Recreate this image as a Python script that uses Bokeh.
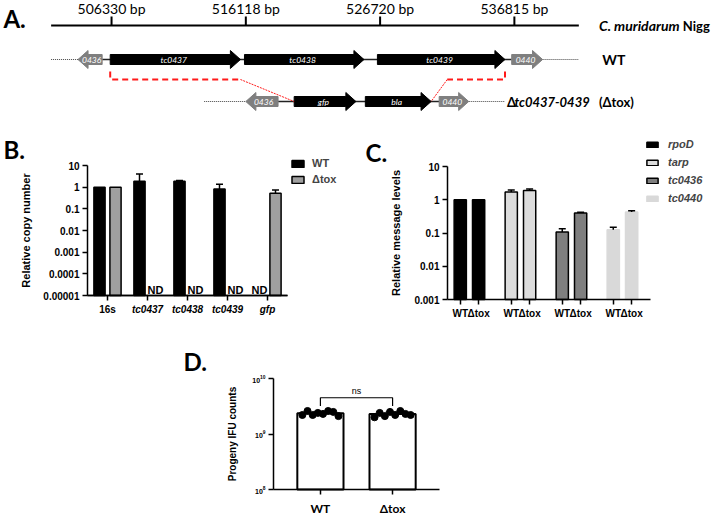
import numpy as np
from bokeh.plotting import figure
from bokeh.layouts import column, row
from bokeh.models import Range1d, FixedTicker, Legend, LegendItem, LinearAxis
from bokeh.core.properties import value
from bokeh.embed import file_html
from bokeh.resources import INLINE

# ---------------- Panel A: locus map (schematic units, ruler ticks every 10) ----------------
ruler_pos = [0, 10, 20, 30]
ruler_labels = ["506330 bp", "516118 bp", "526720 bp", "536815 bp"]

wt_genes = ["0436", "tc0437", "tc0438", "tc0439", "0440"]
wt_start = [-2.5, -0.1, 9.9, 19.8, 29.8]
wt_end = [-0.7, 9.6, 18.8, 29.3, 32.1]
wt_strand = [-1, 1, 1, 1, 1]
wt_kind = ["flank", "core", "core", "core", "flank"]

mut_genes = ["0436", "gfp", "bla", "0440"]
mut_start = [10.0, 13.6, 18.9, 24.4]
mut_end = [12.4, 18.2, 23.8, 26.6]
mut_strand = [-1, 1, 1, 1]
mut_kind = ["flank", "core", "core", "flank"]

# ---------------- Panel B: relative copy number ----------------
b_targets = ["16s", "tc0437", "tc0438", "tc0439", "gfp"]
b_wt = [1.0, 1.86, 1.86, 0.83, None]
b_wt_sd = [0.0, 2.2, 0.15, 0.55, None]
b_tox = [1.0, None, None, None, 0.53]
b_tox_sd = [0.0, None, None, None, 0.21]

# ---------------- Panel C: relative message levels ----------------
c_genes = ["rpoD", "tarp", "tc0436", "tc0440"]
c_strains = ["WT", "\u0394tox"]
c_wt = [1.0, 1.7, 0.107, 0.125]
c_wt_sd = [0.0, 0.28, 0.028, 0.025]
c_tox = [1.0, 1.9, 0.40, 0.43]
c_tox_sd = [0.0, 0.2, 0.02, 0.04]

# ---------------- Panel D: progeny IFU counts ----------------
d_strains = ["WT", "\u0394tox"]
d_wt_ifu = [2.2e9, 2.6e9, 2.2e9, 2.4e9, 2.3e9, 2.6e9, 2.5e9, 2.1e9]
d_tox_ifu = [2.0e9, 2.4e9, 2.1e9, 2.5e9, 2.2e9, 2.6e9, 2.3e9, 2.2e9]

SANS = "Liberation Sans"
CAL = "Lato"
GENE_COLORS = {"core": "#000000", "flank": "#7f7f7f"}


class Frame:
    """Maps an axis box (given in figure pixels) onto ranges that fill the whole figure."""

    def __init__(self, w, h, xd, xpx, yd, ypx, ylog=True):
        self.w, self.h, self.ylog = w, h, ylog
        kx = (xd[1] - xd[0]) / (xpx[1] - xpx[0])
        self.x0 = xd[0] - xpx[0] * kx
        self.x1 = xd[1] + (w - xpx[1]) * kx
        f = np.log10 if ylog else (lambda v: v)
        a, b = f(yd[0]), f(yd[1])
        # ypx: pixel rows (from top) of yd[0] and yd[1]
        lo, hi = h - ypx[0], h - ypx[1]
        ky = (b - a) / (hi - lo)
        self.y0 = a - lo * ky
        self.y1 = b + (h - hi) * ky

    def ranges(self):
        yr = (10 ** self.y0, 10 ** self.y1) if self.ylog else (self.y0, self.y1)
        return Range1d(self.x0, self.x1), Range1d(*yr)

    def x(self, px):
        return self.x0 + px * (self.x1 - self.x0) / self.w

    def y(self, py):
        v = self.y1 - py * (self.y1 - self.y0) / self.h
        return 10 ** v if self.ylog else v


def style_axes(p, tick_px, label_px):
    for ax in p.axis:
        ax.axis_line_width = 1.5
        ax.axis_line_color = "black"
        ax.major_tick_line_width = 1.5
        ax.major_tick_line_color = "black"
        ax.major_tick_in = 0
        ax.major_tick_out = 5
        ax.minor_tick_line_color = None
        ax.major_label_text_font = SANS
        ax.major_label_text_font_size = tick_px
        ax.major_label_text_font_style = "bold"
        ax.major_label_text_color = "black"
        ax.major_label_standoff = 3
        ax.axis_label_text_font = SANS
        ax.axis_label_text_font_size = label_px
        ax.axis_label_text_font_style = "bold"
        ax.axis_label_text_color = "black"
    p.grid.visible = False
    p.outline_line_color = None


def make_panel(fr, xb, yb):
    xr, yr = fr.ranges()
    p = figure(width=fr.w, height=fr.h, x_range=xr, y_range=yr,
               y_axis_type="log" if fr.ylog else "linear", min_border=0,
               toolbar_location=None, output_backend="svg")
    # axes sit on the data box instead of the figure edge
    p.xaxis.fixed_location = yb[0]
    p.xaxis.bounds = xb
    p.yaxis.fixed_location = xb[0]
    p.yaxis.bounds = yb
    return p


def letter(p, fr, text, px, py):
    p.text(x=[fr.x(px)], y=[fr.y(py)], text=[text], text_font=value(CAL),
           text_font_style="bold", text_font_size="24px", text_baseline="middle")


def arrow_xy(s, e, strand, y, hl=0.75, bh=5, hh=9):
    if strand > 0:
        n = e - hl
        xs = [s, n, n, e, n, n, s]
    else:
        n = s + hl
        xs = [e, n, n, s, n, n, e]
    ys = [y - bh, y - bh, y - hh, y, y + hh, y + bh, y + bh]
    return xs, ys


# ================= Panel A =================
RULER_Y, WT_Y, MUT_Y, BRACKET_Y, BRACKET_TOP = 25, 59, 101, 79, 71
pA = figure(width=711, height=135, x_range=Range1d(-8.27, 44.68), y_range=Range1d(135, 0),
            x_axis_location=None, y_axis_location=None, min_border=0,
            toolbar_location=None, output_backend="svg")
pA.grid.visible = False
pA.outline_line_color = None

pA.segment(x0=[-4.5], y0=[RULER_Y], x1=[34.8], y1=[RULER_Y], line_color="black", line_width=2)
pA.segment(x0=ruler_pos, y0=[RULER_Y] * 4, x1=ruler_pos, y1=[RULER_Y - 9] * 4,
           line_color="black", line_width=2)
pA.text(x=ruler_pos, y=[RULER_Y - 17] * 4, text=ruler_labels, text_align="center",
        text_baseline="middle", text_font=value(CAL), text_font_size="14px", text_color="black")
pA.text(x=[36.3], y=[RULER_Y], text=["C. muridarum"], text_font=value(CAL),
        text_font_style="bold italic", text_font_size="14px", text_baseline="middle")
pA.text(x=[44.55], y=[RULER_Y], text=["Nigg"], text_font=value(CAL),
        text_font_style="bold", text_font_size="13px", text_baseline="middle",
        text_align="right")
pA.text(x=[-8.05], y=[18], text=["A."], text_font=value(CAL), text_font_style="bold",
        text_font_size="24px", text_baseline="middle")


def draw_row(genes, starts, ends, strands, kinds, y, flanks):
    for a, b in flanks:
        pA.line([a, b], [y, y], line_color="#444444", line_width=1, line_dash="1 1")
    pA.line([ends[0], starts[-1]], [y, y], line_color="#222222", line_width=1.5)
    xs, ys, cols, lx = [], [], [], []
    for s, e, st, k in zip(starts, ends, strands, kinds):
        ax, ay = arrow_xy(s, e, st, y)
        xs.append(ax)
        ys.append(ay)
        cols.append(GENE_COLORS[k])
        lx.append((s + e) / 2 - st * 0.12)
    pA.patches(xs, ys, fill_color=cols, line_color=cols, line_width=1)
    pA.text(x=lx, y=[y] * len(genes), text=genes, text_align="center", text_baseline="middle",
            text_font=value(CAL), text_font_style="italic", text_font_size="8.5px",
            text_color="white")


draw_row(wt_genes, wt_start, wt_end, wt_strand, wt_kind, WT_Y,
         [(-4.5, wt_start[0]), (wt_end[-1], 34.8)])
draw_row(mut_genes, mut_start, mut_end, mut_strand, mut_kind, MUT_Y,
         [(6.9, mut_start[0]), (mut_end[-1], 29.3)])

# deletion brackets
pA.line([wt_start[1], wt_start[1], wt_end[1]], [BRACKET_TOP, BRACKET_Y, BRACKET_Y],
        line_color="#ff1a1a", line_width=2, line_dash="6 4")
pA.line([wt_end[1], mut_start[1]], [BRACKET_Y, MUT_Y], line_color="#ff1a1a",
        line_width=1, line_dash="2 1")
pA.line([wt_end[3], wt_end[3], 25.0], [BRACKET_TOP, BRACKET_Y, BRACKET_Y],
        line_color="#ff1a1a", line_width=2, line_dash="6 4")
pA.line([25.0, mut_end[2]], [BRACKET_Y, MUT_Y], line_color="#ff1a1a",
        line_width=1, line_dash="2 1")

pA.text(x=[36.55], y=[WT_Y], text=["WT"], text_font=value(CAL), text_font_style="bold",
        text_font_size="14px", text_baseline="middle")
pA.text(x=[29.45], y=[MUT_Y], text=["\u0394"], text_font=value(CAL), text_font_style="bold",
        text_font_size="13px", text_baseline="middle")
pA.text(x=[30.0], y=[MUT_Y], text=["tc0437-0439"], text_font=value(CAL),
        text_font_style="bold italic", text_font_size="13px", text_baseline="middle")
pA.text(x=[38.9], y=[MUT_Y], text=["(\u0394tox)"], text_font=value(CAL),
        text_font_style="bold", text_font_size="13px", text_baseline="middle",
        text_align="right")

# ================= Panel B =================
B_X, B_Y = (-0.5, 4.5), (1e-5, 10)
frB = Frame(355, 195, B_X, (87, 287), B_Y, (160, 30))
pB = make_panel(frB, B_X, B_Y)
# the 16s reference is labelled upright; the gene targets in italics
pB.add_layout(LinearAxis(fixed_location=B_Y[0], bounds=B_X), "below")
style_axes(pB, "10px", "11px")
pB.yaxis.axis_label = "Relative copy number"
pB.yaxis.axis_label_standoff = 8
b_yticks = [1e-5, 1e-4, 1e-3, 1e-2, 1e-1, 1, 10]
pB.yaxis.ticker = FixedTicker(ticks=b_yticks)
pB.yaxis.major_label_overrides = {t: l for t, l in zip(
    b_yticks, ["0.00001", "0.0001", "0.001", "0.01", "0.1", "1", "10"])}
ax_genes, ax_ref = pB.xaxis[0], pB.xaxis[1]
ax_genes.ticker = FixedTicker(ticks=list(range(1, len(b_targets))))
ax_genes.major_label_overrides = {i: t for i, t in enumerate(b_targets) if i > 0}
ax_genes.major_label_text_font_style = "bold italic"
ax_ref.ticker = FixedTicker(ticks=[0])
ax_ref.major_label_overrides = {0: b_targets[0]}

B_DODGE, B_W, B_FLOOR = 0.2, 0.28, B_Y[0]


def series(vals, sds, offset):
    idx = [i for i, v in enumerate(vals) if v is not None]
    return [i + offset for i in idx], [vals[i] for i in idx], [sds[i] for i in idx]


def whiskers(p, xs_, vs_, ss_):
    ex = [x for x, s in zip(xs_, ss_) if s > 0]
    ev = [v for v, s in zip(vs_, ss_) if s > 0]
    eu = [v + s for v, s in zip(vs_, ss_) if s > 0]
    if ex:
        p.segment(x0=ex, y0=ev, x1=ex, y1=eu, line_color="black", line_width=1.5)
        p.dash(x=ex, y=eu, size=7, line_color="black", line_width=1.5)


bx, bv, bs = series(b_wt, b_wt_sd, -B_DODGE)
r_bwt = pB.vbar(x=bx, top=bv, bottom=B_FLOOR, width=B_W, fill_color="black",
                line_color="black", line_width=1.5)
tx, tv, ts = series(b_tox, b_tox_sd, B_DODGE)
r_btox = pB.vbar(x=tx, top=tv, bottom=B_FLOOR, width=B_W, fill_color="#a0a0a0",
                 line_color="black", line_width=1.5)
whiskers(pB, bx, bv, bs)
whiskers(pB, tx, tv, ts)

nd_x = [i + B_DODGE for i, v in enumerate(b_tox) if v is None] + \
       [i - B_DODGE for i, v in enumerate(b_wt) if v is None]
pB.text(x=nd_x, y=[B_FLOOR] * len(nd_x), text=["ND"] * len(nd_x), text_align="center",
        text_baseline="bottom", text_font=value(SANS), text_font_style="bold",
        text_font_size="11px")

legB = Legend(items=[LegendItem(label="WT", renderers=[r_bwt]),
                     LegendItem(label="\u0394tox", renderers=[r_btox])],
              location=(290, 144), padding=0, margin=0, spacing=2, glyph_width=15,
              glyph_height=9, label_standoff=7, label_height=14,
              label_text_font=SANS, label_text_font_style="bold", label_text_font_size="11px",
              border_line_color=None, background_fill_alpha=0)
pB.add_layout(legB)
letter(pB, frB, "B.", 3, 14)

# ================= Panel C =================
C_X, C_Y = (-0.43, 3.55), (1e-3, 10)
frC = Frame(356, 195, C_X, (92, 295), C_Y, (164, 31))
pC = make_panel(frC, C_X, C_Y)
style_axes(pC, "10px", "11px")
pC.yaxis.axis_label = "Relative message levels"
pC.yaxis.axis_label_standoff = 9
c_yticks = [1e-3, 1e-2, 1e-1, 1, 10]
pC.yaxis.ticker = FixedTicker(ticks=c_yticks)
pC.yaxis.major_label_overrides = {t: l for t, l in zip(c_yticks, ["0.001", "0.01", "0.1", "1", "10"])}

C_DODGE, C_W = 0.18, 0.24
c_ticks, c_tick_labels = [], {}
for g in range(len(c_genes)):
    for k, off in enumerate((-C_DODGE, C_DODGE)):
        t = round(g + off, 2)
        c_ticks.append(t)
        c_tick_labels[t] = c_strains[k]
pC.xaxis.ticker = FixedTicker(ticks=c_ticks)
pC.xaxis.major_label_overrides = c_tick_labels

c_fill = ["#000000", "#dcdcdc", "#7f7f7f", "#d9d9d9"]
c_line = ["#000000", "#000000", "#000000", "#d9d9d9"]
legC_items = []
for g, gene in enumerate(c_genes):
    xs_ = [round(g - C_DODGE, 2), round(g + C_DODGE, 2)]
    vs_ = [c_wt[g], c_tox[g]]
    ss_ = [c_wt_sd[g], c_tox_sd[g]]
    r = pC.vbar(x=xs_, top=vs_, bottom=C_Y[0], width=C_W, fill_color=c_fill[g],
                line_color=c_line[g], line_width=1.5)
    legC_items.append(LegendItem(label=gene, renderers=[r]))
    whiskers(pC, xs_, vs_, ss_)

legC = Legend(items=legC_items, location=(290, 125), padding=0, margin=0, spacing=4,
              glyph_width=14, glyph_height=7, label_standoff=9, label_height=14,
              label_text_font=SANS, label_text_font_style="bold italic",
              label_text_font_size="11px", border_line_color=None, background_fill_alpha=0)
pC.add_layout(legC)
letter(pC, frC, "C.", 10, 17)

# ================= Panel D =================
D_X, D_Y = (-0.65, 1.65), (1e8, 1e10)
frD = Frame(711, 184, D_X, (273, 439), D_Y, (159, 48))
pD = make_panel(frD, D_X, D_Y)
style_axes(pD, "7px", "10px")
pD.yaxis.axis_label = "Progeny IFU counts"
pD.yaxis.axis_label_standoff = 11
pD.yaxis.ticker = FixedTicker(ticks=[1e8, 1e9, 1e10])
pD.xaxis.ticker = FixedTicker(ticks=[0, 1])
pD.xaxis.major_label_overrides = {0: d_strains[0], 1: d_strains[1]}
pD.xaxis.major_label_text_font = CAL
pD.xaxis.major_label_text_font_size = "12px"
pD.xaxis.major_label_standoff = 6

d_sets = [d_wt_ifu, d_tox_ifu]
d_mean = [float(np.mean(v)) for v in d_sets]
d_sd = [float(np.std(v, ddof=1)) for v in d_sets]
pD.vbar(x=[0, 1], top=d_mean, bottom=D_Y[0], width=0.64, fill_color="white",
        line_color="black", line_width=2)
d_upper = [m + s for m, s in zip(d_mean, d_sd)]
pD.segment(x0=[0, 1], y0=d_mean, x1=[0, 1], y1=d_upper, line_color="#555555", line_width=1)
pD.dash(x=[0, 1], y=d_upper, size=14, line_color="#555555", line_width=1)
spread = np.linspace(-0.25, 0.25, len(d_wt_ifu))
for g, vals in enumerate(d_sets):
    pD.scatter(x=list(g + spread), y=vals, size=7, fill_color="black", line_color="black")

# significance bracket
pD.line([0, 0, 1, 1], [3.2e9, 4.5e9, 4.5e9, 3.2e9], line_color="black", line_width=1.2)
pD.text(x=[0.5], y=[6.0e9], text=["ns"], text_align="center", text_baseline="middle",
        text_font=value(SANS), text_font_size="9px")
letter(pD, frD, "D.", 183, 31)

layout = column(pA, row(pB, pC), pD)
open("out.html", "w").write(file_html(layout, INLINE))
